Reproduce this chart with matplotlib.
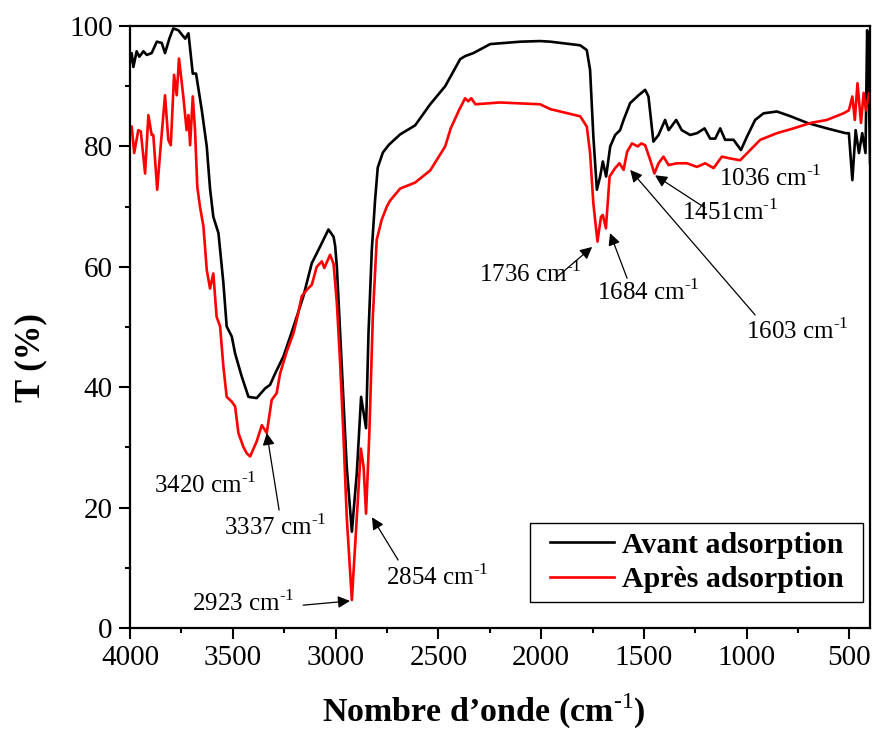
import matplotlib.pyplot as plt
from matplotlib.patches import Rectangle
from matplotlib.ticker import MultipleLocator

plt.rcParams["font.family"] = ["Liberation Serif", "DejaVu Serif"]
plt.rcParams["mathtext.fontset"] = "custom"
plt.rcParams["mathtext.rm"] = "Liberation Serif"
plt.rcParams["mathtext.bf"] = "Liberation Serif:bold"

# Avant adsorption (black)
wn_avant = [4000, 3992, 3984, 3968, 3955, 3935, 3919, 3895, 3870, 3846, 3830, 3809,
            3790, 3765, 3732, 3716, 3695, 3679, 3651, 3627, 3611, 3595, 3570, 3546,
            3530, 3505, 3489, 3457, 3424, 3384, 3343, 3319, 3294, 3254, 3221, 3189,
            3157, 3116, 3075, 3035, 3010, 3002, 2994, 2978, 2946, 2921, 2897, 2876,
            2852, 2840, 2824, 2808, 2795, 2770, 2740, 2686, 2613, 2540, 2467, 2394, 2370,
            2330, 2248, 2100, 2005, 1956, 1810, 1778, 1762, 1746, 1729, 1713, 1700,
            1684, 1664, 1640, 1616, 1599, 1567, 1526, 1494, 1478, 1454, 1429, 1397,
            1380, 1343, 1316, 1275, 1242, 1205, 1178, 1153, 1129, 1105, 1064, 1028,
            999, 959, 918, 853, 786, 705, 610, 519, 503, 486, 470, 454, 438, 422,
            414, 406, 400]
t_avant = [94.0, 95.5, 93.2, 95.8, 94.9, 95.8, 95.2, 95.5, 97.4, 97.2, 95.5, 97.9,
           99.6, 99.3, 97.9, 98.8, 92.1, 92.1, 86.0, 80.0, 73.0, 68.3, 65.6, 57.3,
           50.1, 48.4, 45.6, 41.8, 38.4, 38.2, 39.8, 40.4, 42.3, 45.1, 48.4, 51.7,
           55.1, 60.6, 63.4, 66.2, 65.0, 63.4, 60.0, 49.0, 26.8, 16.0, 25.7, 38.4,
           33.2, 49.0, 62.8, 71.1, 76.5, 79.0, 80.3, 82.0, 83.5, 87.0, 90.0, 94.5, 95.0,
           95.5, 97.0, 97.4, 97.5, 97.4, 96.8, 96.0, 92.7, 81.6, 72.8, 75.0, 77.5,
           75.0, 80.0, 81.9, 82.7, 84.4, 87.2, 88.5, 89.4, 88.3, 80.8, 81.9, 84.4,
           82.7, 84.4, 82.7, 81.9, 82.2, 83.0, 81.3, 81.3, 83.0, 81.1, 81.1, 79.4,
           81.6, 84.4, 85.5, 85.8, 85.0, 83.9, 83.0, 82.2, 82.2, 74.4, 82.7, 78.9,
           82.2, 78.9, 99.3, 90.0, 77.2]

# Après adsorption (red)
wn_apres = [4000, 3992, 3980, 3960, 3948, 3927, 3911, 3895, 3887, 3868, 3854, 3830,
            3814, 3802, 3786, 3773, 3762, 3741, 3725, 3716, 3708, 3695, 3684, 3673,
            3660, 3643, 3627, 3611, 3595, 3579, 3562, 3546, 3530, 3505, 3489, 3473,
            3449, 3432, 3416, 3384, 3359, 3335, 3311, 3287, 3270, 3238, 3205, 3189,
            3165, 3140, 3116, 3092, 3067, 3055, 3027, 3010, 2994, 2978, 2962, 2946,
            2921, 2897, 2877, 2864, 2852, 2836, 2819, 2800, 2776, 2751, 2735, 2686,
            2613, 2540, 2467, 2440, 2400, 2370, 2355, 2340, 2320, 2200, 2005, 1956,
            1810, 1778, 1762, 1746, 1726, 1709, 1700, 1685, 1667, 1640, 1619, 1599,
            1582, 1558, 1530, 1513, 1494, 1469, 1449, 1429, 1405, 1380, 1340, 1291,
            1242, 1202, 1161, 1121, 1080, 1032, 983, 934, 853, 772, 689, 610, 529,
            503, 486, 474, 461, 444, 431, 420, 404, 400]
t_apres = [83.0, 83.3, 78.9, 82.7, 82.5, 75.5, 85.2, 81.9, 81.9, 72.8, 78.9, 88.5,
           81.1, 80.2, 91.9, 88.5, 94.6, 88.3, 82.7, 85.2, 80.2, 88.3, 82.7, 73.3,
           70.0, 66.7, 59.5, 56.4, 58.9, 51.7, 50.1, 43.4, 38.4, 37.6, 36.8, 32.4,
           30.1, 29.0, 28.5, 31.0, 33.7, 32.4, 37.9, 39.0, 42.3, 45.9, 49.0, 51.2,
           55.1, 56.2, 57.0, 60.0, 60.9, 59.8, 62.0, 60.5, 54.0, 44.0, 32.0, 18.5,
           4.65, 18.5, 29.8, 26.8, 19.0, 32.3, 51.7, 64.5, 67.8, 70.0, 71.0, 73.0,
           74.0, 76.0, 80.0, 83.0, 86.0, 88.0, 87.5, 88.0, 87.0, 87.3, 87.0, 86.2,
           85.0, 83.3, 78.9, 70.5, 64.2, 68.3, 68.6, 66.4, 75.0, 76.4, 77.2, 76.1,
           79.1, 80.5, 80.0, 80.5, 80.2, 77.7, 75.5, 77.2, 78.3, 76.9, 77.2, 77.2,
           76.6, 77.2, 76.4, 78.3, 78.0, 77.7, 79.4, 81.1, 82.2, 83.0, 83.9, 84.4, 85.5,
           86.0, 88.3, 84.4, 90.5, 83.9, 88.9, 86.0, 88.9, 87.8]

# peak labels: (text, text x, text y, arrow tail, arrow head)
peak_labels = ["3420", "3337", "2923", "2854", "1736", "1684", "1603", "1451", "1036"]
label_x = [3635, 3295, 3450, 2506, 2054, 1480, 755, 1081, 886]
label_y = [23.8, 16.8, 4.2, 8.5, 58.8, 55.8, 49.3, 69.1, 74.8]
arrow_from = [None, (3275, 19.6), (3158, 3.8), (2696, 11.3), (1923, 58.3),
              (1582, 58.1), (959, 52.0), (1203, 69.8), None]
arrow_to = [None, (3335, 32.4), (2930, 4.5), (2823, 18.4), (1752, 63.3),
            (1665, 65.6), (1567, 76.1), (1446, 75.2), None]

fig = plt.figure(figsize=(8.73, 7.33), dpi=100)
ax = fig.add_axes([0.149, 0.1432, 0.8476, 0.8213])

ax.plot(wn_avant, t_avant, color="black", lw=1.9, label="Avant adsorption")
ax.plot(wn_apres, t_apres, color="red", lw=1.9, label="Après adsorption")

ax.set_xlim(4000, 400)
ax.set_ylim(0, 100)
ax.xaxis.set_major_locator(MultipleLocator(500))
ax.xaxis.set_minor_locator(MultipleLocator(250))
ax.yaxis.set_major_locator(MultipleLocator(20))
ax.yaxis.set_minor_locator(MultipleLocator(10))
ax.tick_params(which="both", direction="out", top=False, right=False,
               width=1.5, labelsize=21, pad=4.5)
ax.tick_params(which="major", length=8)
ax.tick_params(which="minor", length=3.8)
for sp in ax.spines.values():
    sp.set_linewidth(1.6)

ax.set_xlabel(r"Nombre d’onde (cm$^{\mathbf{\text{-1}}}$)", fontsize=24.5,
              fontweight="bold", labelpad=15)
ax.xaxis.label.set_x(0.478)
ax.set_ylabel("T (%)", fontsize=25, fontweight="bold", labelpad=16)
ax.yaxis.label.set_y(0.45)

for i, lab in enumerate(peak_labels):
    sep = "" if lab == "1451" else " "
    ax.text(label_x[i], label_y[i], lab + sep + r"cm$^{\text{-1}}$", fontsize=18,
            ha="center", va="center")
    if arrow_from[i] is not None:
        ax.annotate("", xy=arrow_to[i], xytext=arrow_from[i],
                    arrowprops=dict(arrowstyle="-|>", color="black", lw=0.9,
                                    mutation_scale=18, shrinkA=0, shrinkB=0))

# legend box drawn separately to get the wider side padding of the original
ax.add_patch(Rectangle((0.5405, 0.0432), 0.45, 0.1312, transform=ax.transAxes,
                       facecolor="white", edgecolor="black", lw=1.0, zorder=4))
leg = ax.legend(loc="center", bbox_to_anchor=(0.7655, 0.1088),
                prop={"weight": "bold", "size": 21.5}, frameon=False,
                handlelength=2.14, borderpad=0, labelspacing=0.25,
                handletextpad=0.27, borderaxespad=0)
leg.set_zorder(5)

fig.savefig("out.png", dpi=100)
